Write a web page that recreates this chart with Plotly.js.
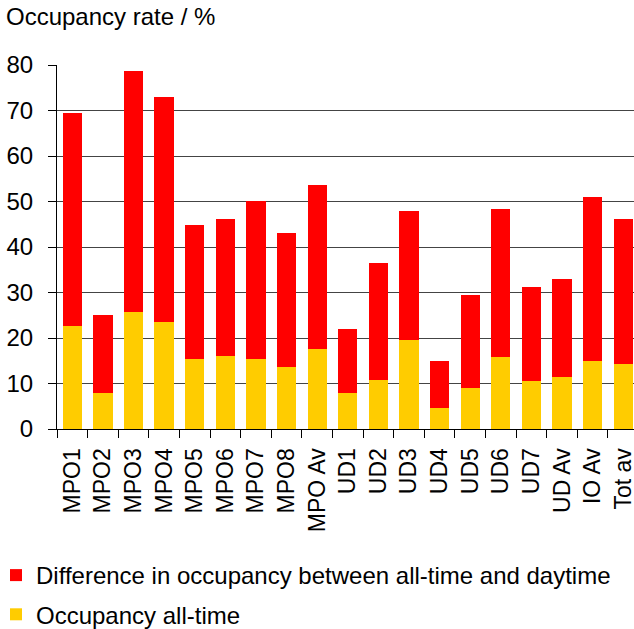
<!DOCTYPE html>
<html>
<head>
<meta charset="utf-8">
<script src="https://cdn.plot.ly/plotly-3.0.1.min.js"></script>
<style>html,body{margin:0;padding:0;background:#fff}#chart{width:634px;height:629px}</style>
</head>
<body>
<div id="chart"></div>
<script>
const categories = ["MPO1","MPO2","MPO3","MPO4","MPO5","MPO6","MPO7","MPO8","MPO Av","UD1","UD2","UD3","UD4","UD5","UD6","UD7","UD Av","IO Av","Tot av"];
const occupancyAllTime = [22.6,7.9,25.7,23.5,15.4,16.0,15.4,13.6,17.6,7.9,10.8,19.6,4.6,9.0,15.8,10.5,11.4,14.9,14.3];
const occupancyTotal = [69.5,25.1,78.7,73.0,44.8,46.2,50.1,43.1,53.6,22.0,36.5,47.9,14.9,29.5,48.4,31.2,33.0,51.0,46.2];
const difference = occupancyTotal.map((t, i) => +(t - occupancyAllTime[i]).toFixed(1));
const yTicks = [0,10,20,30,40,50,60,70,80];

const font = "Liberation Sans, Arial, sans-serif";
const traces = [
  {type:"bar", name:"Occupancy all-time", x:categories, y:occupancyAllTime,
   marker:{color:"#FFCC00"}, legendgroup:"b", legendrank:2, hoverinfo:"y"},
  {type:"bar", name:"Difference in occupancy between all-time and daytime", x:categories, y:difference,
   marker:{color:"#FF0000"}, legendgroup:"a", legendrank:1, hoverinfo:"y"}
];
const layout = {
  width:634, height:629,
  margin:{l:57, r:0, t:65, b:200, pad:0, autoexpand:false},
  paper_bgcolor:"#fff", plot_bgcolor:"#fff",
  font:{family:font, size:24, color:"#000"},
  barmode:"stack", bargap:0.37,
  title:{text:"Occupancy rate / %", xref:"container", yref:"container",
         x:6/634, xanchor:"left", y:1-17/629, yanchor:"middle",
         font:{family:font, size:24, color:"#000"}},
  xaxis:{type:"category", range:[-0.5, -0.5 + 577/30.61], tickson:"boundaries",
         tickmode:"array", tickvals:categories, ticktext:categories, automargin:false,
         ticks:"outside", ticklen:8, tickcolor:"#000", tickwidth:1,
         showline:true, linecolor:"#000", linewidth:1, showgrid:false,
         tickangle:-90, ticklabelstandoff:9, tickfont:{family:font, size:23}, fixedrange:true},
  yaxis:{range:[0,80], tickvals:yTicks, ticks:"outside", ticklen:8, tickcolor:"#000",
         showline:true, linecolor:"#000", linewidth:1, automargin:false,
         showgrid:true, gridcolor:"#444", gridwidth:1, zeroline:false,
         ticklabelstandoff:10, tickfont:{family:font, size:24}, fixedrange:true},
  showlegend:true,
  legend:{orientation:"v", xref:"paper", yref:"paper", x:-61/577, xanchor:"left",
          y:(429-553)/364, yanchor:"top", traceorder:"grouped", tracegroupgap:5,
          font:{family:font, size:24, color:"#000"}, bgcolor:"rgba(0,0,0,0)"}
};
Plotly.newPlot("chart", traces, layout, {displayModeBar:false, staticPlot:true});
</script>
</body>
</html>
